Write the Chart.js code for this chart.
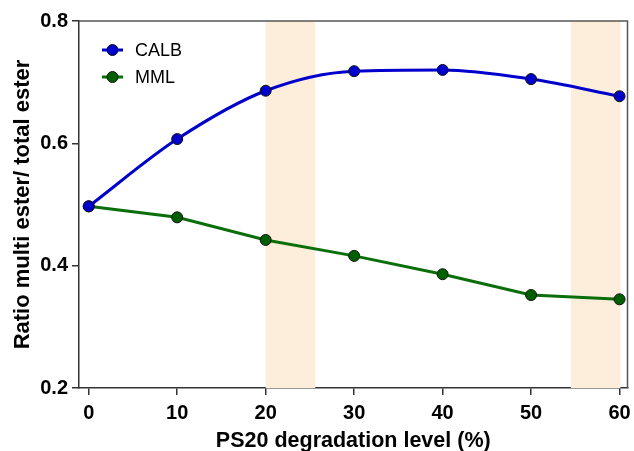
<!DOCTYPE html>
<html>
<head>
<meta charset="utf-8">
<script src="https://cdn.jsdelivr.net/npm/chart.js@4/dist/chart.umd.min.js"></script>
<style>
html,body{margin:0;padding:0;background:#fff;}
#wrap{width:634px;height:451px;position:relative;}
</style>
</head>
<body>
<div id="wrap"><canvas id="c" width="634" height="451"></canvas></div>
<script>
const degradation = [0, 10, 20, 30, 40, 50, 60];
const calb = [0.497, 0.607, 0.686, 0.718, 0.720, 0.705, 0.677];
const mml  = [0.497, 0.479, 0.442, 0.416, 0.386, 0.352, 0.345];
const xTicks = [0, 10, 20, 30, 40, 50, 60];
const yTicks = [0.2, 0.4, 0.6, 0.8];
const bandStarts = [20, 54.5];
const bandEnds = [25.6, 60.1];
const seriesNames = ['CALB', 'MML'];

const FONT = 'Liberation Sans, Arial, sans-serif';

const bandsPlugin = {
  id: 'bands',
  beforeDatasetsDraw(chart) {
    const {ctx, chartArea, scales} = chart;
    ctx.save();
    ctx.fillStyle = '#fdeedb';
    bandStarts.forEach((s, i) => {
      const x1 = scales.x.getPixelForValue(s);
      const x2 = scales.x.getPixelForValue(bandEnds[i]);
      ctx.fillRect(x1, chartArea.top, x2 - x1, chartArea.bottom - chartArea.top);
    });
    ctx.restore();
  }
};

const framePlugin = {
  id: 'frame',
  afterDraw(chart) {
    const {ctx, chartArea} = chart;
    ctx.save();
    ctx.strokeStyle = '#555';
    ctx.lineWidth = 1.5;
    ctx.beginPath();
    ctx.moveTo(chartArea.left, chartArea.top);
    ctx.lineTo(chartArea.right, chartArea.top);
    ctx.lineTo(chartArea.right, chartArea.bottom);
    ctx.stroke();
    ctx.restore();
  }
};

const legendPlugin = {
  id: 'customLegend',
  afterDraw(chart) {
    const {ctx, chartArea} = chart;
    ctx.save();
    chart.data.datasets.forEach((ds, i) => {
      const y = chartArea.top + 29 + i * 27;
      const x0 = chartArea.left + 23;
      ctx.strokeStyle = ds.borderColor;
      ctx.lineWidth = 3;
      ctx.beginPath();
      ctx.moveTo(x0, y);
      ctx.lineTo(x0 + 21, y);
      ctx.stroke();
      ctx.fillStyle = ds.pointBackgroundColor;
      ctx.strokeStyle = '#111';
      ctx.lineWidth = 1;
      ctx.beginPath();
      ctx.arc(x0 + 10.5, y, 5.5, 0, Math.PI * 2);
      ctx.fill();
      ctx.stroke();
      ctx.fillStyle = '#000';
      ctx.font = '18px ' + FONT;
      ctx.textBaseline = 'middle';
      ctx.fillText(ds.label, x0 + 33, y + 1);
    });
    ctx.restore();
  }
};

new Chart(document.getElementById('c'), {
  type: 'line',
  data: {
    datasets: [
      {
        label: seriesNames[0],
        data: degradation.map((x, i) => ({x, y: calb[i]})),
        borderColor: '#0000cc',
        borderWidth: 3,
        pointBackgroundColor: '#0000cc',
        pointBorderColor: '#111',
        pointBorderWidth: 1,
        pointRadius: 5.5,
        cubicInterpolationMode: 'monotone'
      },
      {
        label: seriesNames[1],
        data: degradation.map((x, i) => ({x, y: mml[i]})),
        borderColor: '#0a6e0a',
        borderWidth: 3,
        pointBackgroundColor: '#006000',
        pointBorderColor: '#111',
        pointBorderWidth: 1,
        pointRadius: 5.5,
        tension: 0
      }
    ]
  },
  options: {
    responsive: false,
    animation: false,
    layout: {padding: {left: 0, top: 21, right: 1, bottom: 0}},
    plugins: {legend: {display: false}, tooltip: {enabled: false}},
    scales: {
      x: {
        type: 'linear',
        min: -1.1,
        max: 60.9,
        afterBuildTicks(scale) { scale.ticks = xTicks.map(v => ({value: v})); },
        afterFit(scale) { scale.height = 63; scale.paddingLeft = 0; scale.paddingRight = 0; },
        grid: {display: true, drawOnChartArea: false, drawTicks: true, tickLength: 7, color: '#333', lineWidth: 1.5},
        border: {display: true, color: '#333', width: 1.5},
        ticks: {color: '#000', font: {family: FONT, size: 20, weight: 'bold'}, padding: 6, maxRotation: 0},
        title: {display: true, text: 'PS20 degradation level (%)', color: '#000', font: {family: FONT, size: 21.5, weight: 'bold', lineHeight: 1}, padding: {top: 0, bottom: -1}}
      },
      y: {
        min: 0.2,
        max: 0.8,
        afterBuildTicks(scale) { scale.ticks = yTicks.map(v => ({value: v})); },
        afterFit(scale) { scale.width = 79; scale.paddingTop = 0; scale.paddingBottom = 0; },
        grid: {display: true, drawOnChartArea: false, drawTicks: true, tickLength: 7, color: '#333', lineWidth: 1.5},
        border: {display: true, color: '#333', width: 1.5},
        ticks: {color: '#000', font: {family: FONT, size: 20, weight: 'bold'}, padding: 4, callback: v => v.toFixed(1)},
        title: {display: true, text: 'Ratio multi ester/ total ester', color: '#000', font: {family: FONT, size: 22, weight: 'bold', lineHeight: 1}, padding: {top: 12, bottom: 0}}
      }
    }
  },
  plugins: [bandsPlugin, framePlugin, legendPlugin]
});
</script>
</body>
</html>
